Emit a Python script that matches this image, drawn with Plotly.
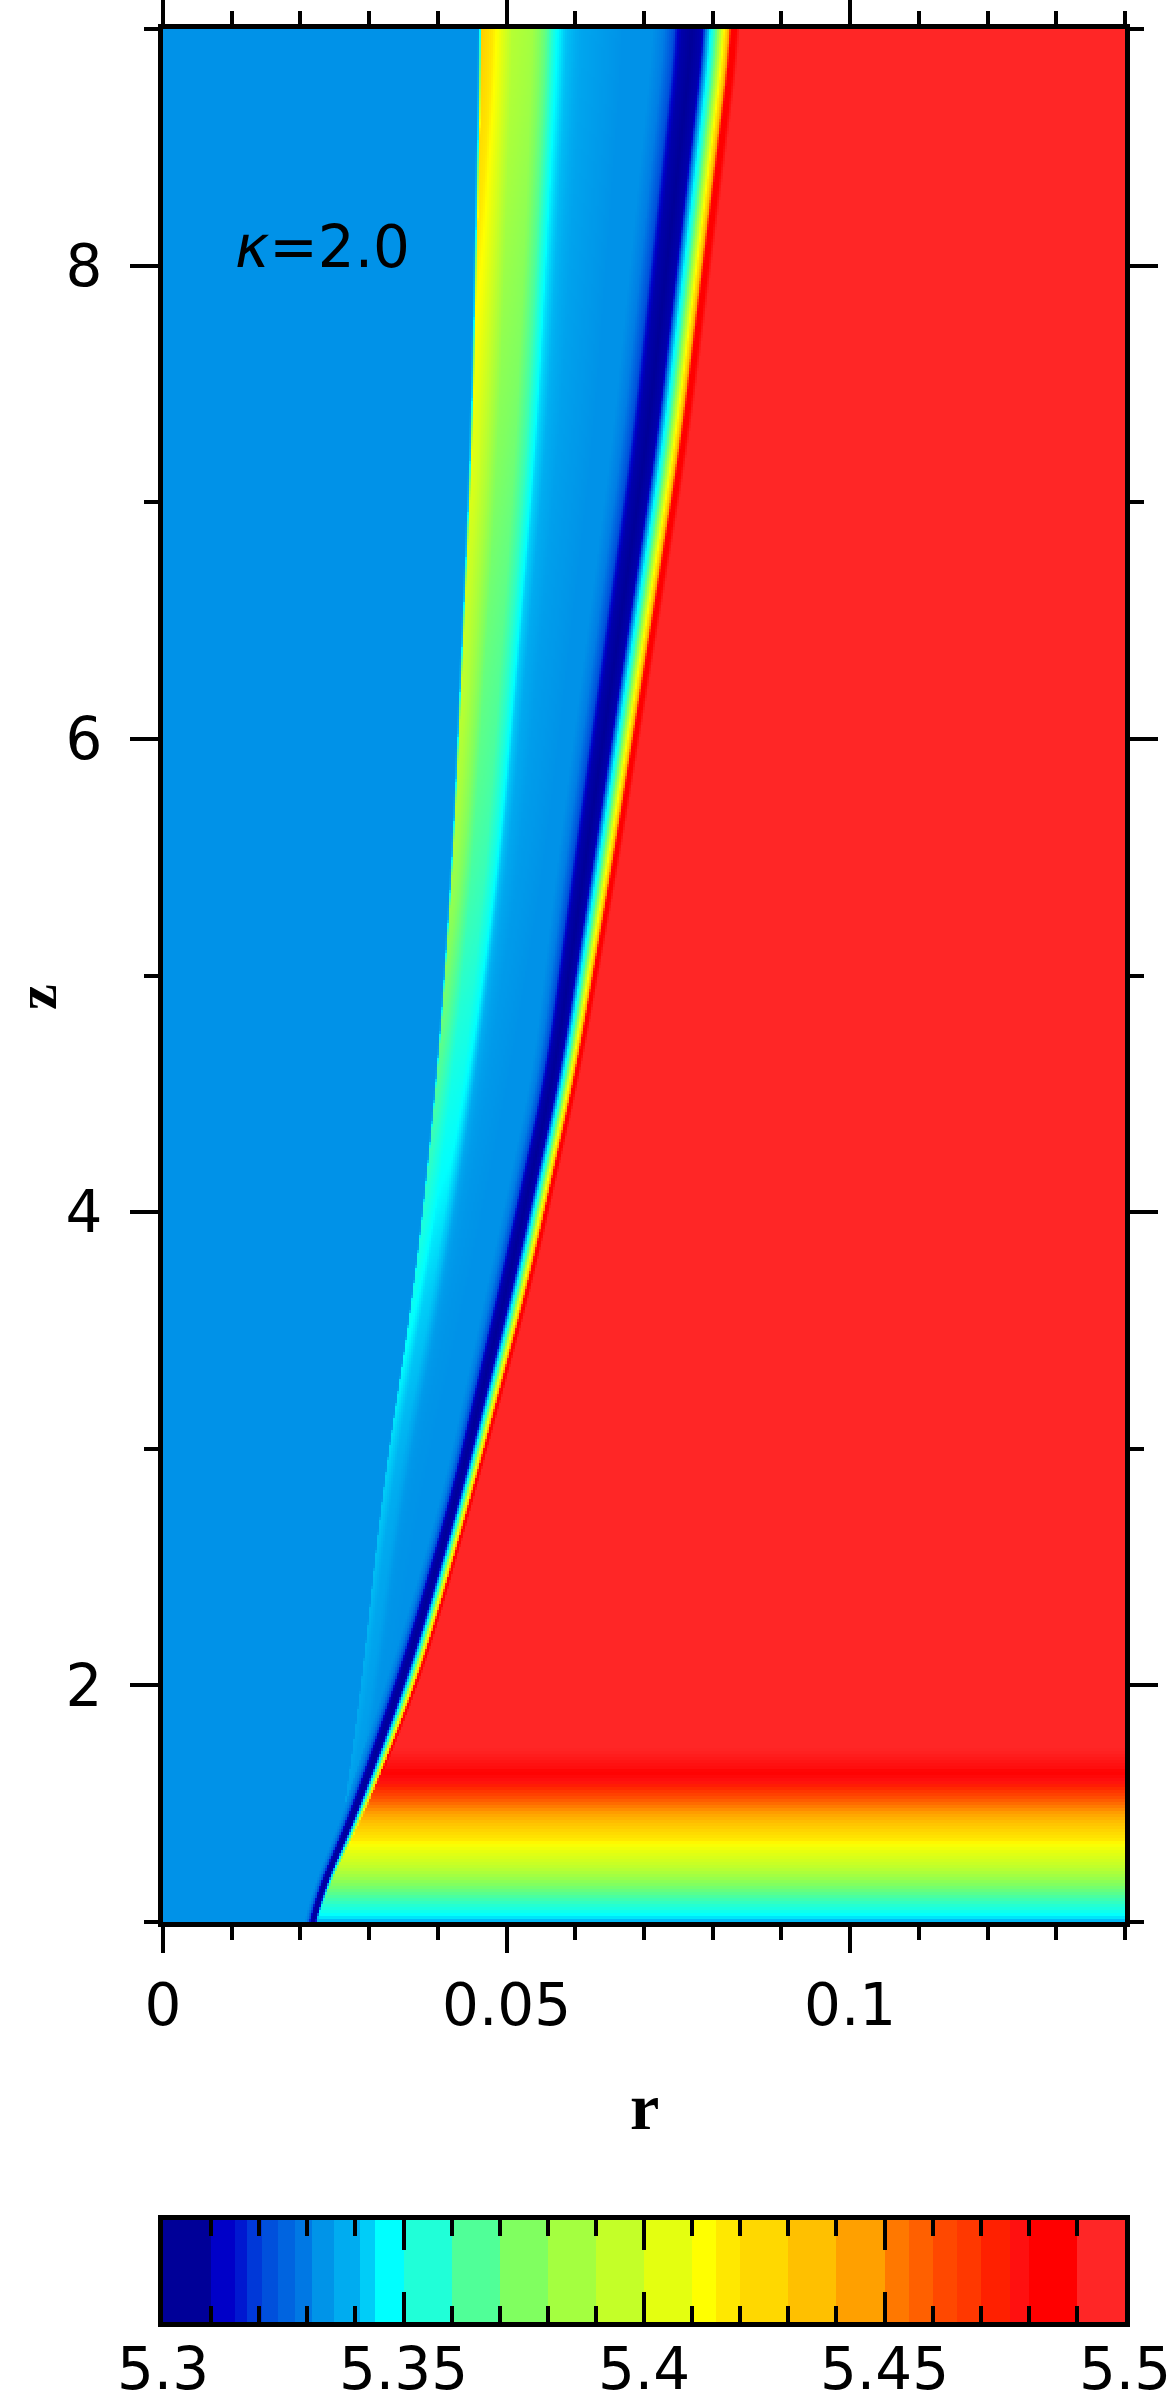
import numpy as np
import plotly.graph_objects as go

# ---- values ----
# front (red boundary) and the dark-blue dip just ahead of it, per height z
z_track = [1.0, 1.30, 1.65, 1.94, 2.19, 2.83, 3.71, 4.60, 5.49, 7.26, 9.0]
r_front = [0.0219, 0.0272, 0.0320, 0.0360, 0.0389, 0.0452, 0.0533, 0.0602, 0.0656, 0.0755, 0.0830]
r_dip = [0.0207, 0.0257, 0.0302, 0.0338, 0.0367, 0.0430, 0.0503, 0.0570, 0.0615, 0.0704, 0.0772]

# profile across the front, in units of (r_front - r_dip)
front_t = [-2.0, -1.7, -1.45, -1.25, -1.0, -0.75, -0.62, -0.54, -0.45, -0.37, -0.28, -0.2, -0.12, -0.06, 0.0, 0.12, 0.25]
front_v = [5.333, 5.330, 5.322, 5.305, 5.300, 5.306, 5.333, 5.345, 5.356, 5.370, 5.390, 5.410, 5.428, 5.445, 5.485, 5.485, 5.497]

# the yellow/green band on the left: edge, width and peak value per height
z_band = [1.0, 1.94, 2.83, 3.71, 4.60, 5.49, 7.26, 9.0]
r_band = [0.0240, 0.0287, 0.0320, 0.0368, 0.0401, 0.0423, 0.0451, 0.0465]
w_band = [0.002, 0.003, 0.004, 0.0055, 0.0075, 0.0095, 0.0125, 0.0147]
band_peak = [5.334, 5.338, 5.342, 5.350, 5.365, 5.385, 5.405, 5.430]
band_d = [-0.04, -0.02, 0.0, 0.06, 0.17, 0.3, 0.5, 0.63, 0.75, 0.85, 1.0, 1.4]
band_frac = [0.0, 0.13, 1.0, 0.95, 0.8, 0.6, 0.54, 0.38, 0.15, 0.08, 0.04, 0.0]

# vertical profile at the bottom of the red region
z_bottom = [1.0, 1.02, 1.05, 1.10, 1.17, 1.24, 1.32, 1.40, 1.50, 1.58, 1.65, 1.72, 1.78]
v_bottom = [5.338, 5.345, 5.352, 5.362, 5.378, 5.395, 5.410, 5.430, 5.455, 5.475, 5.488, 5.493, 5.497]

v_blue = 5.333

# stepped colour table of the colour bar
cb_edges = [5.300, 5.310, 5.315, 5.3175, 5.3205, 5.324, 5.3275, 5.331, 5.3355, 5.341, 5.344,
            5.350, 5.360, 5.370, 5.380, 5.390, 5.400, 5.410, 5.415, 5.420, 5.430, 5.440,
            5.450, 5.455, 5.460, 5.465, 5.470, 5.476, 5.480, 5.490, 5.500]
cb_colors = ["#000098", "#0000c8", "#0018d0", "#0038d8", "#0050dc", "#0064e0", "#0078e4",
             "#0094e8", "#00acf0", "#00cdf8", "#00ffff", "#20ffd8", "#50ff98", "#80ff60",
             "#a4ff40", "#c4ff28", "#e4ff10", "#ffff00", "#ffe800", "#ffd800", "#ffc000",
             "#ffa000", "#ff7800", "#ff6000", "#ff4800", "#ff3800", "#ff2000", "#ff1010",
             "#ff0000", "#ff2626"]
cb_ticks = [5.3, 5.35, 5.4, 5.45, 5.5]
cb_ticktext = ["5.3", "5.35", "5.4", "5.45", "5.5"]

x_ticks = [0, 0.05, 0.1]
x_ticktext = ["0", "0.05", "0.1"]
y_ticks = [2, 4, 6, 8]

zmin, zmax = cb_edges[0], cb_edges[-1]
span = zmax - zmin
# stepped scale for the bar, smooth scale (through band centres) for the map
step_scale, smooth_scale = [], [[0.0, cb_colors[0]]]
for i, c in enumerate(cb_colors):
    a = (cb_edges[i] - zmin) / span
    b = (cb_edges[i + 1] - zmin) / span
    step_scale += [[a, c], [b, c]]
    if 0 < i < len(cb_colors) - 1:
        smooth_scale.append([(a + b) / 2, c])
smooth_scale += [[(cb_edges[-2] - zmin) / span + 0.02, cb_colors[-1]], [1.0, cb_colors[-1]]]


def smooth_rows(a, n):
    # running mean along z to take the kinks out of the hand-read tracks
    k = np.ones(n) / n
    p = np.pad(a, (n // 2, n - 1 - n // 2), mode="edge")
    return np.convolve(p, k, mode="valid")


# ---- assemble the field ----
nr, nz = 481, 631
r = (np.arange(nr) + 0.5) * 0.14 / nr
zz = 1 + (np.arange(nz) + 0.5) * 8.0 / nz
R = r[None, :]

rb = smooth_rows(np.interp(zz, z_band, r_band), 61)[:, None]
wb = smooth_rows(np.interp(zz, z_band, w_band), 61)[:, None]
pk = smooth_rows(np.interp(zz, z_band, band_peak), 61)[:, None]
frac = np.interp((R - rb) / wb, band_d, band_frac, left=0, right=0)
field = v_blue + (pk - v_blue) * frac

rf = smooth_rows(np.interp(zz, z_track, r_front), 41)[:, None]
rd = smooth_rows(np.interp(zz, z_track, r_dip), 41)[:, None]
t = (R - rf) / (rf - rd)
fp = np.interp(t, front_t, front_v)
bot = np.interp(zz, z_bottom, v_bottom)[:, None]
fp = np.where(t > -0.75, np.minimum(fp, bot), fp)
field = np.where(t > front_t[0], fp, field)
field = np.round(field, 4)

cb_vals = zmin + (np.arange(400) + 0.5) * span / 400

fig = go.Figure()
fig.add_trace(go.Heatmap(x=r, y=zz, z=field, colorscale=smooth_scale, zmin=zmin, zmax=zmax,
                         showscale=False, hoverinfo="skip", xaxis="x", yaxis="y"))
fig.add_trace(go.Heatmap(x=cb_vals, y0=0.5, dy=1, z=[cb_vals], colorscale=step_scale,
                         zmin=zmin, zmax=zmax, showscale=False, hoverinfo="skip",
                         xaxis="x2", yaxis="y2"))

W, H = 1175, 2404
xl, xr = 163 / W, 1125 / W
tickfont = dict(family="DejaVu Sans", size=58, color="black")
common = dict(showline=True, linewidth=5, linecolor="black", mirror="allticks",
              showgrid=False, zeroline=False, tickcolor="black", tickfont=tickfont,
              automargin=False)

fig.update_layout(
    width=W, height=H, autosize=False,
    margin=dict(l=0, r=0, t=0, b=0, pad=0, autoexpand=False),
    paper_bgcolor="white", plot_bgcolor="white", showlegend=False,
    xaxis=dict(domain=[xl, xr], range=[0, 0.14], anchor="y", ticks="outside",
               ticklen=26, tickwidth=4, tickvals=x_ticks, ticktext=x_ticktext,
               ticklabelstandoff=2,
               minor=dict(ticks="outside", ticklen=13, tickwidth=4, dtick=0.01, tick0=0,
                          tickcolor="black"), **common),
    yaxis=dict(domain=[(H - 1922) / H, (H - 29) / H], range=[1, 9], anchor="x",
               ticks="outside", ticklen=28, tickwidth=4, tickvals=y_ticks,
               ticklabelstandoff=16,
               minor=dict(ticks="outside", ticklen=14, tickwidth=4, dtick=1, tick0=1,
                          tickcolor="black"), **common),
    xaxis2=dict(domain=[xl, xr], range=[zmin, zmax], anchor="y2", ticks="inside",
                ticklen=30, tickwidth=4, tickvals=cb_ticks, ticktext=cb_ticktext,
                ticklabelstandoff=-8,
                minor=dict(ticks="inside", ticklen=16, tickwidth=4, dtick=0.01, tick0=5.3,
                           tickcolor="black"), **common),
    yaxis2=dict(domain=[(H - 2322) / H, (H - 2220) / H], range=[0, 1], anchor="x2",
                ticks="", showticklabels=False, showline=True, linewidth=5,
                linecolor="black", mirror=True, showgrid=False, zeroline=False,
                automargin=False),
)

fig.add_annotation(x=0.0102, y=8.08, xref="x", yref="y", text="<i>κ</i>=2.0",
                   showarrow=False, xanchor="left", yanchor="middle",
                   font=dict(family="DejaVu Sans", size=58, color="black"))
fig.add_annotation(x=(xl + xr) / 2, y=1 - 2106 / H, xref="paper", yref="paper", text="<b>r</b>",
                   showarrow=False, xanchor="center", yanchor="middle",
                   font=dict(family="Liberation Serif", size=66, color="black"))
# rotated axis label, kept far enough in that its text box stays on the page
fig.add_annotation(x=36 / W, y=1 - 997 / H, xref="paper", yref="paper", text="<b>z</b>",
                   showarrow=False, xanchor="center", yanchor="middle", textangle=-90,
                   borderpad=0,
                   font=dict(family="Liberation Serif", size=58, color="black"))

fig.write_html("out.html", config={"displayModeBar": False},
               post_script="document.body.style.margin='0';")
